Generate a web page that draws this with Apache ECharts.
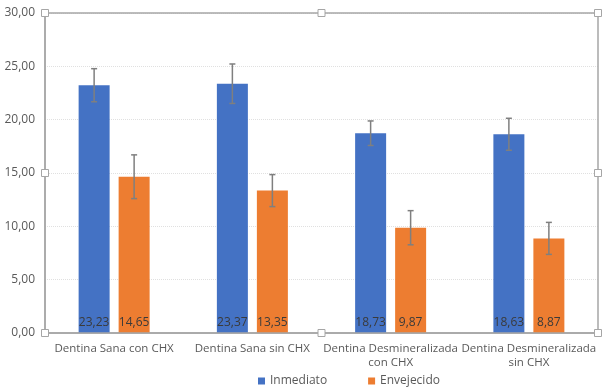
<!DOCTYPE html>
<html><head><meta charset="utf-8">
<script src="https://cdn.jsdelivr.net/npm/echarts@6/dist/echarts.min.js"></script>
<style>html,body{margin:0;padding:0;background:#fff}#c{width:605px;height:389px}</style>
</head><body><div id="c"></div>
<script>
var categories = ['Dentina Sana con CHX', 'Dentina Sana sin CHX', 'Dentina Desmineralizada\ncon CHX', 'Dentina Desmineralizada\nsin CHX'];
var inmediato = [23.23, 23.37, 18.73, 18.63];
var envejecido = [14.65, 13.35, 9.87, 8.87];
var errInmediato = [1.55, 1.85, 1.15, 1.5];
var errEnvejecido = [2.05, 1.5, 1.6, 1.5];
var seriesNames = ['Inmediato', 'Envejecido'];

var G = {left: 45, top: 13, right: 7, bottom: 56};
var W = 605, H = 389;
var BAR_W = 31, BAR_GAP = 9;
var fmt = function (v) { return v.toFixed(2).replace('.', ','); };

function errSeries(vals, errs, offset) {
  return {
    type: 'custom', silent: true, z: 5,
    data: vals.map(function (v, i) { return [i, v - errs[i], v + errs[i]]; }),
    renderItem: function (params, api) {
      var lo = api.coord([api.value(0), api.value(1)]);
      var hi = api.coord([api.value(0), api.value(2)]);
      var x = lo[0] + offset;
      var style = {stroke: '#7f7f7f', lineWidth: 1.5};
      return {type: 'group', children: [
        {type: 'line', shape: {x1: x, y1: lo[1], x2: x, y2: hi[1]}, style: style},
        {type: 'line', shape: {x1: x - 3, y1: lo[1], x2: x + 3, y2: lo[1]}, style: style},
        {type: 'line', shape: {x1: x - 3, y1: hi[1], x2: x + 3, y2: hi[1]}, style: style}
      ]};
    }
  };
}

var x0 = G.left, y0 = G.top, x1 = W - G.right, y1 = H - G.bottom;
function handle(cx, cy) {
  return {type: 'rect', shape: {x: cx - 3.5, y: cy - 3.5, width: 7, height: 7},
    style: {fill: '#fff', stroke: '#a6a6a6', lineWidth: 1}, z: 100};
}
var graphics = [
  {type: 'rect', shape: {x: x0, y: y0, width: x1 - x0, height: y1 - y0},
    style: {fill: 'none', stroke: '#a6a6a6', lineWidth: 1.5}, z: 99, silent: true},
  handle(x0, y0), handle((x0 + x1) / 2, y0), handle(x1, y0),
  handle(x0, (y0 + y1) / 2), handle(x1, (y0 + y1) / 2),
  handle(x0, y1), handle((x0 + x1) / 2, y1), handle(x1, y1)
];

var labelStyle = {show: true, position: 'insideBottom', distance: 4, color: '#3a3a3a',
  fontSize: 12, fontFamily: 'Open Sans', formatter: function (p) { return fmt(p.value); }};

var chart = echarts.init(document.getElementById('c'));
chart.setOption({
  animation: false,
  textStyle: {fontFamily: 'Open Sans'},
  grid: {left: G.left, top: G.top, right: G.right, bottom: G.bottom, containLabel: false},
  legend: {bottom: 2, left: 258, padding: 0, itemWidth: 7, itemHeight: 7, itemGap: 41, icon: 'rect',
    textStyle: {color: '#595959', fontSize: 12, fontFamily: 'Open Sans'}, data: seriesNames},
  xAxis: {type: 'category', data: categories,
    axisLine: {show: true, lineStyle: {color: '#a6a6a6', width: 1.5}},
    axisTick: {show: false},
    axisLabel: {color: '#595959', fontSize: 11.5, margin: 9, lineHeight: 13.5, interval: 0}},
  yAxis: {type: 'value', min: 0, max: 30, interval: 5,
    axisLine: {show: true, lineStyle: {color: '#a6a6a6', width: 1.5}},
    axisTick: {show: false},
    axisLabel: {color: '#595959', fontSize: 12, margin: 10, formatter: fmt},
    splitLine: {show: true, lineStyle: {color: '#e0e0e0', width: 1, type: 'dotted'}}},
  series: [
    {name: seriesNames[0], type: 'bar', data: inmediato, barWidth: BAR_W, barGap: (BAR_GAP / BAR_W * 100) + '%',
      itemStyle: {color: '#4472C4'}, label: labelStyle},
    {name: seriesNames[1], type: 'bar', data: envejecido, barWidth: BAR_W,
      itemStyle: {color: '#ED7D31'}, label: labelStyle},
    errSeries(inmediato, errInmediato, -(BAR_W + BAR_GAP) / 2),
    errSeries(envejecido, errEnvejecido, (BAR_W + BAR_GAP) / 2)
  ],
  graphic: graphics
});
</script></body></html>
